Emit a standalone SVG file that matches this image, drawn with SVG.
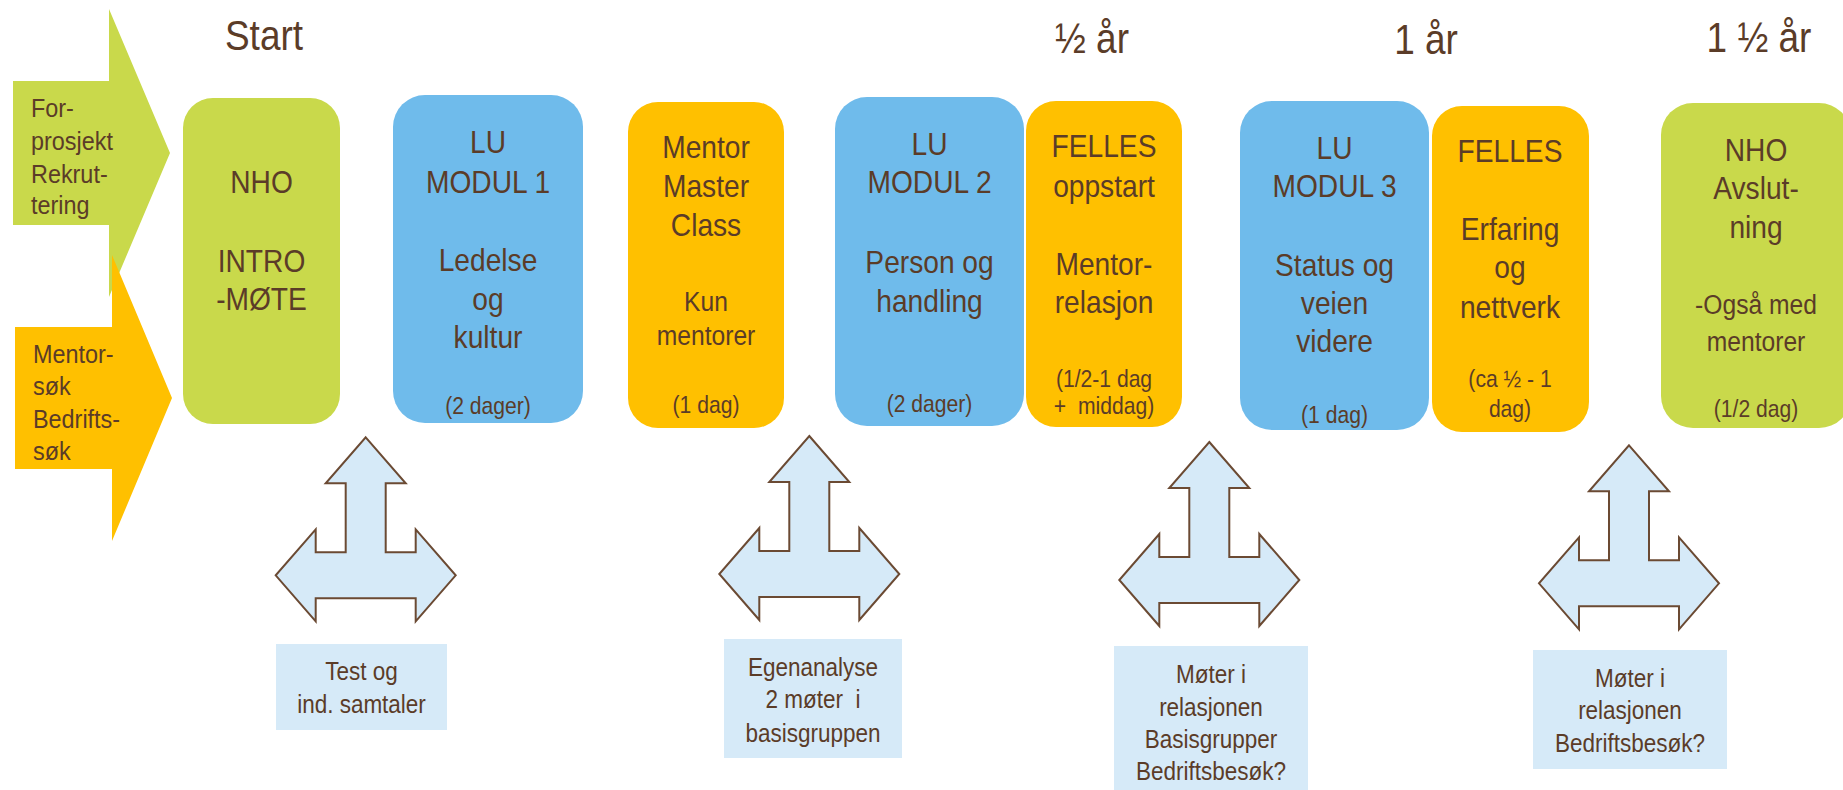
<svg xmlns="http://www.w3.org/2000/svg" width="1843" height="790" viewBox="0 0 1843 790">
<style>
.green{fill:#c9d94b}
.blue{fill:#6fbbeb}
.orange{fill:#ffc000}
.lbl{fill:#d6eaf8}
.tarrow{fill:#d6eaf8;stroke:#6b4a33;stroke-width:2;stroke-linejoin:miter}
text{font-family:"Liberation Sans",Arial,sans-serif;fill:#5b3c28}
.tm{font-size:32px;text-anchor:middle}
.tk{font-size:28px;text-anchor:middle}
.td{font-size:24px;text-anchor:middle}
.ta{font-size:26px}
.tb{font-size:25px;text-anchor:middle}
.tt{font-size:42px;text-anchor:middle}
</style>
<defs>
<path id="tshape" d="M0,0 L40,46 L20,46 L20,115 L50,115 L50,92 L90,138 L50,184 L50,161 L-50,161 L-50,184 L-90,138 L-50,92 L-50,115 L-20,115 L-20,46 L-40,46 Z"/>
</defs>
<rect width="1843" height="790" fill="#ffffff"/>

<g id="titles">
<g transform="translate(264 0) scale(0.88 1)"><text class="tt" y="50">Start</text></g>
<g transform="translate(1092 0) scale(0.88 1)"><text class="tt" y="53">½ år</text></g>
<g transform="translate(1426 0) scale(0.88 1)"><text class="tt" y="54">1 år</text></g>
<g transform="translate(1759 0) scale(0.88 1)"><text class="tt" y="52">1 ½ år</text></g>
</g>

<g id="arrow-forprosjekt">
<path class="green" d="M13,81 L109,81 L109,9 L170,153 L109,297 L109,225 L13,225 Z"/>
<g transform="translate(31 0) scale(0.9 1)">
<text class="ta" y="117">For-</text>
<text class="ta" y="150">prosjekt</text>
<text class="ta" y="183">Rekrut-</text>
<text class="ta" y="214">tering</text>
</g>
</g>

<g id="arrow-mentorsok">
<path class="orange" d="M15,327 L112,327 L112,255 L172,398 L112,541 L112,469 L15,469 Z"/>
<g transform="translate(33 0) scale(0.9 1)">
<text class="ta" y="363">Mentor-</text>
<text class="ta" y="395">søk</text>
<text class="ta" y="428">Bedrifts-</text>
<text class="ta" y="460">søk</text>
</g>
</g>

<g id="node-nho-intro">
<rect class="green" x="183" y="98" width="157" height="326" rx="30"/>
<g transform="translate(261.5 0) scale(0.88 1)">
<text class="tm" y="193">NHO</text>
<text class="tm" y="272">INTRO</text>
<text class="tm" y="310">-MØTE</text>
</g>
</g>

<g id="node-lu-modul1">
<rect class="blue" x="393" y="95" width="190" height="328" rx="32"/>
<g transform="translate(488 0) scale(0.88 1)">
<text class="tm" y="153">LU</text>
<text class="tm" y="193">MODUL 1</text>
<text class="tm" y="271">Ledelse</text>
<text class="tm" y="310">og</text>
<text class="tm" y="348">kultur</text>
<text class="td" y="414">(2 dager)</text>
</g>
</g>

<g id="node-mentor-master">
<rect class="orange" x="628" y="102" width="156" height="326" rx="30"/>
<g transform="translate(706 0) scale(0.88 1)">
<text class="tm" y="158">Mentor</text>
<text class="tm" y="197">Master</text>
<text class="tm" y="236">Class</text>
<text class="tk" y="311">Kun</text>
<text class="tk" y="345">mentorer</text>
<text class="td" y="413">(1 dag)</text>
</g>
</g>

<g id="node-lu-modul2">
<rect class="blue" x="835" y="97" width="189" height="329" rx="32"/>
<g transform="translate(929.5 0) scale(0.88 1)">
<text class="tm" y="155">LU</text>
<text class="tm" y="193">MODUL 2</text>
<text class="tm" y="273">Person og</text>
<text class="tm" y="312">handling</text>
<text class="td" y="412">(2 dager)</text>
</g>
</g>

<g id="node-felles-oppstart">
<rect class="orange" x="1026" y="101" width="156" height="326" rx="30"/>
<g transform="translate(1104 0) scale(0.88 1)">
<text class="tm" y="157">FELLES</text>
<text class="tm" y="197">oppstart</text>
<text class="tm" y="275">Mentor-</text>
<text class="tm" y="313">relasjon</text>
<text class="td" y="387">(1/2-1 dag</text>
<text class="td" y="414" xml:space="preserve">+  middag)</text>
</g>
</g>

<g id="node-lu-modul3">
<rect class="blue" x="1240" y="101" width="189" height="329" rx="32"/>
<g transform="translate(1334.5 0) scale(0.88 1)">
<text class="tm" y="159">LU</text>
<text class="tm" y="197">MODUL 3</text>
<text class="tm" y="276">Status og</text>
<text class="tm" y="314">veien</text>
<text class="tm" y="352">videre</text>
<text class="td" y="423">(1 dag)</text>
</g>
</g>

<g id="node-felles-erfaring">
<rect class="orange" x="1432" y="106" width="157" height="326" rx="30"/>
<g transform="translate(1510 0) scale(0.88 1)">
<text class="tm" y="162">FELLES</text>
<text class="tm" y="240">Erfaring</text>
<text class="tm" y="278">og</text>
<text class="tm" y="318">nettverk</text>
<text class="td" y="387">(ca ½ - 1</text>
<text class="td" y="417">dag)</text>
</g>
</g>

<g id="node-nho-avslutning">
<rect class="green" x="1661" y="103" width="190" height="325" rx="32"/>
<g transform="translate(1756 0) scale(0.88 1)">
<text class="tm" y="161">NHO</text>
<text class="tm" y="199">Avslut-</text>
<text class="tm" y="238">ning</text>
<text class="tk" y="314">-Også med</text>
<text class="tk" y="351">mentorer</text>
<text class="td" y="417">(1/2 dag)</text>
</g>
</g>

<g id="connectors">
<use href="#tshape" class="tarrow" transform="translate(365.7 437.3)"/>
<use href="#tshape" class="tarrow" transform="translate(809.3 436)"/>
<use href="#tshape" class="tarrow" transform="translate(1209.3 442)"/>
<use href="#tshape" class="tarrow" transform="translate(1629 445.3)"/>
</g>

<g id="label-test">
<rect class="lbl" x="276" y="644" width="171" height="86"/>
<g transform="translate(361.5 0) scale(0.9 1)">
<text class="tb" y="680">Test og</text>
<text class="tb" y="713">ind. samtaler</text>
</g>
</g>

<g id="label-egenanalyse">
<rect class="lbl" x="724" y="639" width="178" height="119"/>
<g transform="translate(813 0) scale(0.9 1)">
<text class="tb" y="676">Egenanalyse</text>
<text class="tb" y="708" xml:space="preserve">2 møter  i</text>
<text class="tb" y="742">basisgruppen</text>
</g>
</g>

<g id="label-moter1">
<rect class="lbl" x="1114" y="646" width="194" height="144"/>
<g transform="translate(1211 0) scale(0.9 1)">
<text class="tb" y="683">Møter i</text>
<text class="tb" y="716">relasjonen</text>
<text class="tb" y="748">Basisgrupper</text>
<text class="tb" y="780">Bedriftsbesøk?</text>
</g>
</g>

<g id="label-moter2">
<rect class="lbl" x="1533" y="650" width="194" height="119"/>
<g transform="translate(1630 0) scale(0.9 1)">
<text class="tb" y="687">Møter i</text>
<text class="tb" y="719">relasjonen</text>
<text class="tb" y="752">Bedriftsbesøk?</text>
</g>
</g>
</svg>
